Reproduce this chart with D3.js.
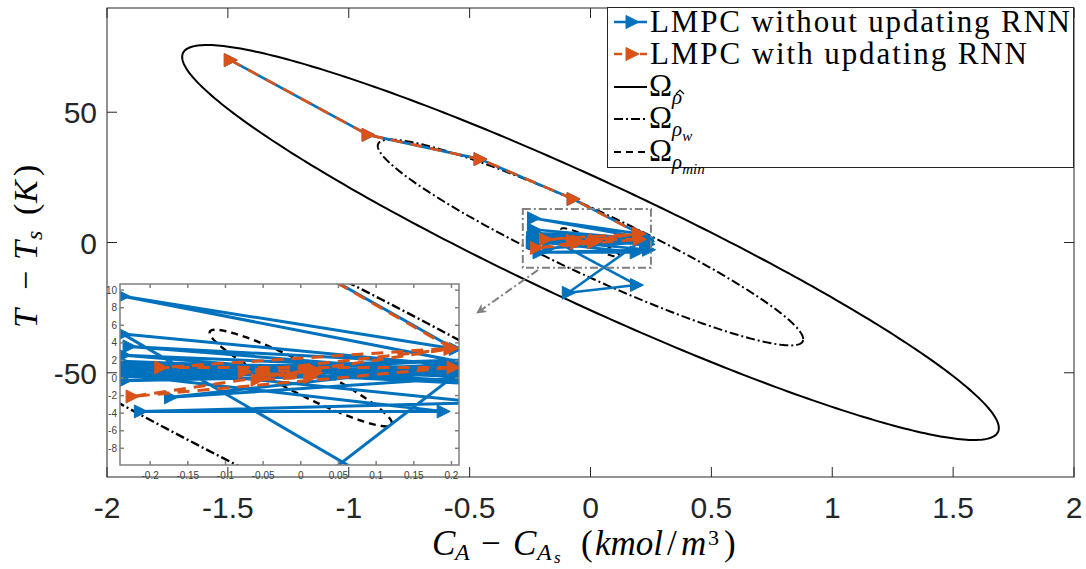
<!DOCTYPE html>
<html>
<head>
<meta charset="utf-8">
<script src="https://cdn.jsdelivr.net/npm/d3@7"></script>
<style>
  body { margin: 0; background: #fff; }
  svg { display: block; }
  .tick-main { font-family: "Liberation Sans", Arial, sans-serif; font-size: 30px; fill: #262626; }
  .tick-inset { font-family: "Liberation Sans", Arial, sans-serif; font-size: 10px; fill: #404040; }
  .math { font-family: "Liberation Serif", "Times New Roman", serif; fill: #000; }
</style>
</head>
<body>
<svg id="chart" width="1086" height="569"></svg>
<script>
// trajectories in deviation variables (C_A - C_As, T - T_s)
var blueCA = [-1.49, -0.92, -0.457, -0.072, 0.205, -0.236, 0.232, -0.228, 0.236, -0.238,
  0.228, -0.232, 0.226, -0.241, 0.234, -0.235, 0.238, -0.233, 0.24, -0.213,
  0.189, -0.238, 0.231, -0.236, 0.19, -0.092, 0.218, -0.239, 0.229, -0.173,
  0.235, -0.234, 0.232, -0.237, 0.233];
var blueT = [70, 41.3, 32, 16.7, 3.3, 9.3, 1.5, 3.6, 0.4, 1.9,
  -0.4, 0.8, 2.1, 0.1, 0.9, 2.6, -0.7, 1.3, -2.8, -3.8,
  -3.8, 0.4, 1.2, 5.0, -16.3, -19.3, 1.2, 1.6, 0.1, -2.2,
  1.7, -0.3, 0.5, 1.0, 0.3];

var orangeCA = [-1.49, -0.92, -0.457, -0.072, 0.2, -0.186, 0.202, -0.224, 0.198, -0.075,
  0.018, -0.058, 0.012, -0.052, 0.02];
var orangeT = [70, 41.3, 32, 16.7, 3.4, 1.2, 1.2, -2.1, 3.3, 0.7,
  0.9, -0.2, 0.1, 0.4, 0.6];

// level sets: max C_A, T at that point, max T
var setNames = ['rhoHat', 'rhoW', 'rhoMin'];
var setXMax = [1.689, 0.88, 0.121];
var setYAtXMax = [-71.2, -37.1, -5.15];
var setYMax = [75.8, 39.5, 5.5];
var setDash = [null, '9,3,2,3', '7,5'];

var xTicks = [-2, -1.5, -1, -0.5, 0, 0.5, 1, 1.5, 2];
var yTicks = [-50, 0, 50];
var insetXTicks = [-0.2, -0.15, -0.1, -0.05, 0, 0.05, 0.1, 0.15, 0.2];
var insetYTicks = [-8, -6, -4, -2, 0, 2, 4, 6, 8, 10];

var zoomBox = { x0: -0.28, x1: 0.25, y0: -9.7, y1: 12.9 };

var BLUE = '#0072BD', ORANGE = '#D95319';

var svg = d3.select('#chart');
svg.append('rect').attr('width', 1086).attr('height', 569).attr('fill', '#fff');

var xMain = d3.scaleLinear().domain([-2, 2]).range([107, 1074]);
var yMain = d3.scaleLinear().domain([-90, 90]).range([477, 8]);
var xIn = d3.scaleLinear().domain([-0.24, 0.21]).range([120, 459]);
var yIn = d3.scaleLinear().domain([-9.9, 10.7]).range([465, 284]);

var defs = svg.append('defs');
defs.append('clipPath').attr('id', 'clipMain').append('rect')
  .attr('x', 107).attr('y', 8).attr('width', 967).attr('height', 469);
defs.append('clipPath').attr('id', 'clipIn').append('rect')
  .attr('x', 120).attr('y', 284).attr('width', 339).attr('height', 181);
defs.append('marker').attr('id', 'grayHead')
  .attr('viewBox', '0 0 10 10').attr('refX', 9).attr('refY', 5)
  .attr('markerWidth', 10).attr('markerHeight', 10).attr('markerUnits', 'userSpaceOnUse')
  .attr('orient', 'auto')
  .append('path').attr('d', 'M0,0 L10,5 L0,10 L3,5 Z').attr('fill', '#808080');

var tri = 'M-6,-6.5 L7,0 L-6,6.5 Z';

function ellipsePoints(i) {
  var a = setXMax[i], c = setYAtXMax[i];
  var d = Math.sqrt(setYMax[i] * setYMax[i] - c * c);
  return d3.range(0, 361).map(function (k) {
    var t = k / 360 * 2 * Math.PI;
    return [a * Math.cos(t), c * Math.cos(t) + d * Math.sin(t)];
  });
}

function drawContent(g, xs, ys, lw) {
  var line = d3.line().x(function (p) { return xs(p[0]); }).y(function (p) { return ys(p[1]); });

  setNames.forEach(function (name, i) {
    g.append('path')
      .attr('class', 'set-' + name)
      .attr('d', line(ellipsePoints(i)))
      .attr('fill', 'none').attr('stroke', '#000')
      .attr('stroke-width', lw.set)
      .attr('stroke-dasharray', setDash[i]);
  });

  var series = [
    { ca: blueCA, t: blueT, color: BLUE, dash: null },
    { ca: orangeCA, t: orangeT, color: ORANGE, dash: '12,8' }
  ];
  series.forEach(function (s) {
    var pts = s.ca.map(function (v, k) { return [v, s.t[k]]; });
    g.append('path')
      .attr('d', line(pts))
      .attr('fill', 'none').attr('stroke', s.color)
      .attr('stroke-width', lw.traj)
      .attr('stroke-linejoin', 'round')
      .attr('stroke-dasharray', s.dash);
    g.selectAll(null).data(pts).enter().append('path')
      .attr('d', tri)
      .attr('transform', function (p) { return 'translate(' + xs(p[0]) + ',' + ys(p[1]) + ')'; })
      .attr('fill', s.color).attr('stroke', s.color).attr('stroke-width', 1);
  });
}

// main axes content
var gMain = svg.append('g').attr('clip-path', 'url(#clipMain)');
drawContent(gMain, xMain, yMain, { set: 2, traj: 2.6 });

// zoom box and pointer
svg.append('rect')
  .attr('x', xMain(zoomBox.x0)).attr('y', yMain(zoomBox.y1))
  .attr('width', xMain(zoomBox.x1) - xMain(zoomBox.x0))
  .attr('height', yMain(zoomBox.y0) - yMain(zoomBox.y1))
  .attr('fill', 'none').attr('stroke', '#808080').attr('stroke-width', 2)
  .attr('stroke-dasharray', '8,3,2,3');
svg.append('line')
  .attr('x1', 538).attr('y1', 270).attr('x2', 477).attr('y2', 313)
  .attr('stroke', '#808080').attr('stroke-width', 2)
  .attr('stroke-dasharray', '8,3,2,3')
  .attr('marker-end', 'url(#grayHead)');

// main axes frame and ticks
var axMain = svg.append('g').attr('stroke', '#262626').attr('stroke-width', 1);
axMain.append('rect').attr('x', 107).attr('y', 8).attr('width', 967).attr('height', 469).attr('fill', 'none');
xTicks.forEach(function (v) {
  axMain.append('line').attr('x1', xMain(v)).attr('x2', xMain(v)).attr('y1', 477).attr('y2', 467);
  axMain.append('line').attr('x1', xMain(v)).attr('x2', xMain(v)).attr('y1', 8).attr('y2', 18);
});
yTicks.forEach(function (v) {
  axMain.append('line').attr('x1', 107).attr('x2', 117).attr('y1', yMain(v)).attr('y2', yMain(v));
  axMain.append('line').attr('x1', 1074).attr('x2', 1064).attr('y1', yMain(v)).attr('y2', yMain(v));
});
svg.selectAll('.xt').data(xTicks).enter().append('text')
  .attr('class', 'tick-main')
  .attr('x', function (d) { return xMain(d); }).attr('y', 518)
  .attr('text-anchor', 'middle')
  .text(function (d) { return String(d); });
svg.selectAll('.yt').data(yTicks).enter().append('text')
  .attr('class', 'tick-main')
  .attr('x', 97).attr('y', function (d) { return yMain(d) + 11; })
  .attr('text-anchor', 'end')
  .text(function (d) { return String(d); });

// axis labels (LaTeX style), pieces placed one by one
function mathPiece(t, str, x, dy, size, italic) {
  var s = t.append('tspan').attr('x', x).attr('dy', dy).text(str);
  if (size) s.attr('font-size', size);
  if (italic) s.attr('font-style', 'italic');
  return s;
}
var xl = svg.append('text').attr('class', 'math').attr('y', 555).attr('font-size', 35);
mathPiece(xl, 'C', 432, 0, null, true);
mathPiece(xl, 'A', 455, 5, 24, true);
mathPiece(xl, '−', 481, -5, null, false);
mathPiece(xl, 'C', 513, 0, null, true);
mathPiece(xl, 'A', 537, 5, 24, true);
mathPiece(xl, 's', 554, 3, 17, true);
mathPiece(xl, '(', 581, -8, null, false);
mathPiece(xl, 'kmol', 595, 0, null, true);
mathPiece(xl, '/', 667, 0, null, false);
mathPiece(xl, 'm', 681, 0, null, true);
mathPiece(xl, '3', 708, -10, 22, false);
mathPiece(xl, ')', 724, 10, null, false);

var yl = svg.append('text').attr('class', 'math')
  .attr('transform', 'translate(37,328) rotate(-90)').attr('font-size', 34);
mathPiece(yl, 'T', 0, 0, null, true);
mathPiece(yl, '−', 38, 0, null, false);
mathPiece(yl, 'T', 68, 0, null, true);
mathPiece(yl, 's', 88, 5, 24, true);
mathPiece(yl, '(', 113, -5, null, false);
mathPiece(yl, 'K', 125, 0, null, true);
mathPiece(yl, ')', 152, 0, null, false);

// legend
var lg = svg.append('g');
lg.append('rect').attr('x', 607.5).attr('y', 7.5).attr('width', 466).attr('height', 160)
  .attr('fill', '#fff').attr('stroke', '#262626').attr('stroke-width', 1);
var rowY = [22, 54, 87, 119, 152];
var legendLabels = ['LMPC without updating RNN', 'LMPC with updating RNN'];
[[BLUE, null], [ORANGE, '8,5']].forEach(function (s, i) {
  lg.append('line').attr('x1', 614).attr('x2', 647).attr('y1', rowY[i]).attr('y2', rowY[i])
    .attr('stroke', s[0]).attr('stroke-width', 2.6).attr('stroke-dasharray', s[1]);
  lg.append('path').attr('d', tri).attr('transform', 'translate(632,' + rowY[i] + ')')
    .attr('fill', s[0]).attr('stroke', s[0]);
  lg.append('text').attr('class', 'math').attr('x', 650).attr('y', rowY[i] + 10)
    .attr('font-size', 31).attr('textLength', i === 0 ? 420 : 377).attr('lengthAdjust', 'spacing')
    .text(legendLabels[i]);
});
setNames.forEach(function (name, i) {
  var yy = rowY[i + 2];
  lg.append('line').attr('x1', 614).attr('x2', 647).attr('y1', yy).attr('y2', yy)
    .attr('stroke', '#000').attr('stroke-width', 2).attr('stroke-dasharray', setDash[i]);
  var t = lg.append('text').attr('class', 'math').attr('x', 649).attr('y', yy + 9).attr('font-size', 31);
  t.append('tspan').text('Ω');
  t.append('tspan').attr('font-style', 'italic').attr('font-size', 21).attr('dy', 8).text('ρ');
  if (name === 'rhoHat') {
    // hat accent over rho
    lg.append('path')
      .attr('d', 'M676,' + (yy + 7) + ' L680,' + (yy + 3) + ' L684,' + (yy + 7))
      .attr('fill', 'none').attr('stroke', '#000').attr('stroke-width', 1.2);
  } else {
    t.append('tspan').attr('font-style', 'italic').attr('font-size', 15).attr('dy', 5)
      .text(name === 'rhoW' ? 'w' : 'min');
  }
});

// inset
svg.append('rect').attr('x', 120).attr('y', 284).attr('width', 339).attr('height', 181).attr('fill', '#fff');
var gIn = svg.append('g').attr('clip-path', 'url(#clipIn)');
drawContent(gIn, xIn, yIn, { set: 2.4, traj: 3 });

var axIn = svg.append('g').attr('stroke', '#808080').attr('stroke-width', 1.5);
axIn.append('rect').attr('x', 120).attr('y', 284).attr('width', 339).attr('height', 181).attr('fill', 'none');
insetXTicks.forEach(function (v) {
  axIn.append('line').attr('x1', xIn(v)).attr('x2', xIn(v)).attr('y1', 465).attr('y2', 461);
  axIn.append('line').attr('x1', xIn(v)).attr('x2', xIn(v)).attr('y1', 284).attr('y2', 288);
});
insetYTicks.forEach(function (v) {
  axIn.append('line').attr('x1', 120).attr('x2', 124).attr('y1', yIn(v)).attr('y2', yIn(v));
  axIn.append('line').attr('x1', 459).attr('x2', 455).attr('y1', yIn(v)).attr('y2', yIn(v));
});
svg.selectAll('.ixt').data(insetXTicks).enter().append('text')
  .attr('class', 'tick-inset')
  .attr('x', function (d) { return xIn(d); }).attr('y', 479)
  .attr('text-anchor', 'middle')
  .text(function (d) { return String(d); });
svg.selectAll('.iyt').data(insetYTicks).enter().append('text')
  .attr('class', 'tick-inset')
  .attr('x', 117).attr('y', function (d) { return yIn(d) + 3.5; })
  .attr('text-anchor', 'end')
  .text(function (d) { return String(d); });
</script>
</body>
</html>
